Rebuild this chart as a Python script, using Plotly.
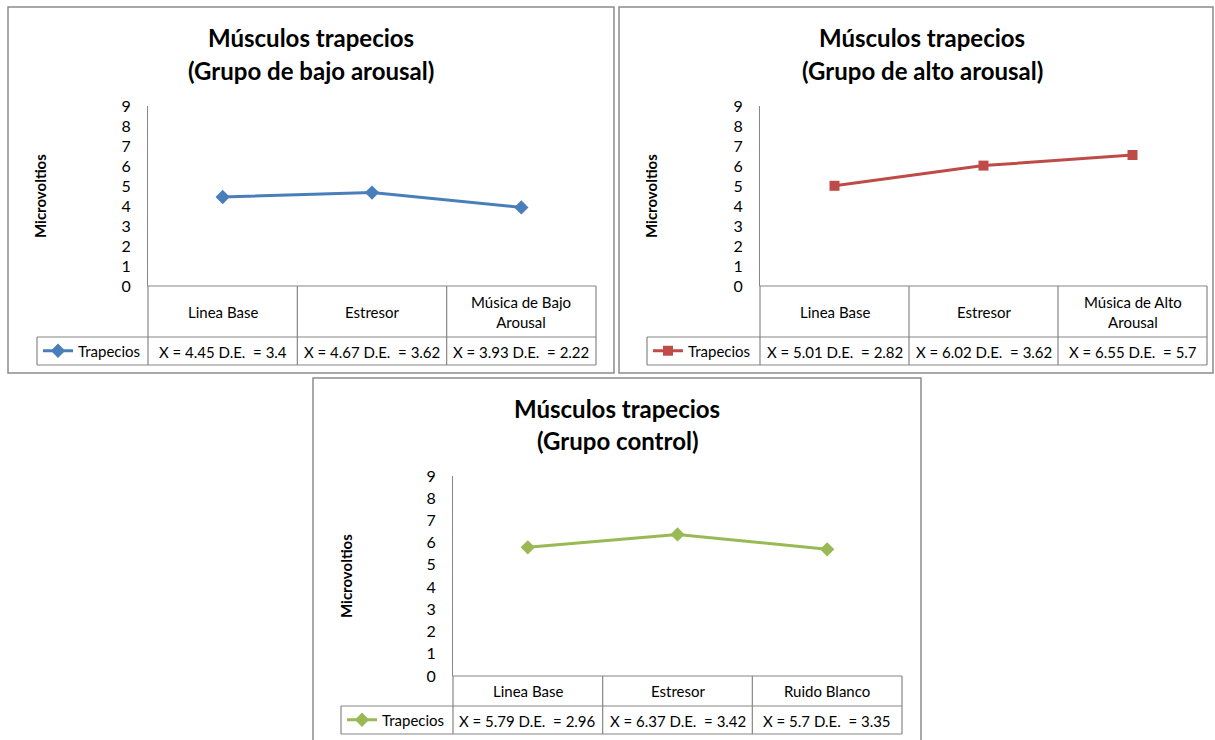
import plotly.graph_objects as go

# ---------------- data ----------------
titles = [
    ["Músculos trapecios", "(Grupo de bajo arousal)"],
    ["Músculos trapecios", "(Grupo de alto arousal)"],
    ["Músculos trapecios", "(Grupo control)"],
]
cats_bajo = ["Linea Base", "Estresor", "Música de Bajo<br>Arousal"]
cats_alto = ["Linea Base", "Estresor", "Música de Alto<br>Arousal"]
cats_control = ["Linea Base", "Estresor", "Ruido Blanco"]
mean_bajo = [4.45, 4.67, 3.93]
sd_bajo = [3.4, 3.62, 2.22]
mean_alto = [5.01, 6.02, 6.55]
sd_alto = [2.82, 3.62, 5.7]
mean_control = [5.79, 6.37, 5.7]
sd_control = [2.96, 3.42, 3.35]
series_name = "Trapecios"
y_title = "Microvoltios"
y_ticks = [0, 1, 2, 3, 4, 5, 6, 7, 8, 9]

# ---------------- layout helpers ----------------
W, H = 1215, 740
def px(x):
    return x / W
def py(y):
    return 1 - y / H

FONT = "Lato"
GRAY = "#868686"
colors = ["#4A7EBB", "#BE4B48", "#98B954"]
symbols = ["diamond", "square", "diamond"]

panels = [
    dict(box=(8, 7, 614, 373), ax0=148, ax1=596, y9=106, y0=286, hb=337, lb=365,
         kl=37, tx=311, t1=37, t2=70, ytx=40, cats=cats_bajo, m=mean_bajo, s=sd_bajo),
    dict(box=(619, 7, 1213, 373), ax0=760, ax1=1207, y9=106, y0=286, hb=337, lb=365,
         kl=647, tx=922, t1=37, t2=70, ytx=651, cats=cats_alto, m=mean_alto, s=sd_alto),
    dict(box=(313, 378, 921, 745), ax0=453, ax1=902, y9=476, y0=676, hb=706, lb=734,
         kl=341, tx=617, t1=408, t2=440, ytx=346, cats=cats_control, m=mean_control, s=sd_control),
]

fig = go.Figure()
shapes = []
annotations = []
layout_extra = {}

for i, p in enumerate(panels):
    n = i + 1
    xa = "x" if n == 1 else f"x{n}"
    ya = "y" if n == 1 else f"y{n}"
    leg = "legend" if n == 1 else f"legend{n}"
    fig.add_trace(go.Scatter(
        x=p["cats"], y=p["m"], mode="lines+markers", name=series_name,
        line=dict(color=colors[i], width=3),
        marker=dict(symbol=symbols[i], size=11 if symbols[i] == "diamond" else 10, color=colors[i]),
        xaxis=xa, yaxis=ya, legend=leg, showlegend=True,
    ))
    axkey = "xaxis" if n == 1 else f"xaxis{n}"
    aykey = "yaxis" if n == 1 else f"yaxis{n}"
    layout_extra[axkey] = dict(
        domain=[px(p["ax0"]), px(p["ax1"])], anchor=ya, type="category",
        range=[-0.5, 2.5], showticklabels=False, showgrid=False, zeroline=False,
        showline=False, ticks="", fixedrange=True,
    )
    layout_extra[aykey] = dict(
        domain=[py(p["y0"]), py(p["y9"])], anchor=xa, range=[0, 9],
        tickvals=y_ticks, showgrid=False, zeroline=False, showline=True,
        linecolor=GRAY, linewidth=1, ticks="", ticklabelstandoff=13,
        tickfont=dict(family=FONT, size=16, color="#000"),
    )
    layout_extra[leg] = dict(
        x=px(p["kl"] + 1), y=py((p["hb"] + p["lb"]) / 2), xanchor="left", yanchor="middle",
        bgcolor="rgba(0,0,0,0)", borderwidth=0, font=dict(family=FONT, size=15, color="#000"),
        itemwidth=30, tracegroupgap=0,
    )
    # panel border
    x0, y0b, x1, y1b = p["box"]
    shapes.append(dict(type="rect", xref="paper", yref="paper",
                       x0=px(x0), x1=px(x1), y0=py(y0b), y1=py(y1b),
                       line=dict(color="#8C8C8C", width=1.5), layer="below"))
    # table lines
    def hline(xa_, xb_, yy):
        shapes.append(dict(type="line", xref="paper", yref="paper", x0=px(xa_), x1=px(xb_),
                           y0=py(yy), y1=py(yy), line=dict(color=GRAY, width=1.2)))
    def vline(xx, ya_, yb_):
        shapes.append(dict(type="line", xref="paper", yref="paper", x0=px(xx), x1=px(xx),
                           y0=py(ya_), y1=py(yb_), line=dict(color=GRAY, width=1.2)))
    colw = (p["ax1"] - p["ax0"]) / 3
    hline(p["ax0"], p["ax1"], p["y0"])
    hline(p["kl"], p["ax1"], p["hb"])
    hline(p["kl"], p["ax1"], p["lb"])
    for k in range(4):
        vline(p["ax0"] + k * colw, p["y0"], p["lb"])
    vline(p["kl"], p["hb"], p["lb"])
    # category labels and values
    for k, c in enumerate(p["cats"]):
        annotations.append(dict(xref=xa, yref="paper", x=c, y=py((p["y0"] + p["hb"]) / 2),
                                text=c, showarrow=False, xanchor="center", yanchor="middle",
                                font=dict(family=FONT, size=15, color="#000")))
        annotations.append(dict(xref=xa, yref="paper", x=c, y=py((p["hb"] + p["lb"]) / 2 + 1),
                                text=f"X = {p['m'][k]} D.E.\u00a0 = {p['s'][k]}",
                                showarrow=False, xanchor="center", yanchor="middle",
                                font=dict(family=FONT, size=15, color="#000")))
    # titles
    for txt, ty in zip(titles[i], [p["t1"], p["t2"]]):
        annotations.append(dict(xref="paper", yref="paper", x=px(p["tx"]), y=py(ty),
                                text=f"<b>{txt}</b>", showarrow=False, xanchor="center",
                                yanchor="middle", font=dict(family=FONT, size=24, color="#000")))
    # y title
    annotations.append(dict(xref="paper", yref="paper", x=px(p["ytx"]),
                            y=py((p["y0"] + p["y9"]) / 2), text=f"<b>{y_title}</b>",
                            textangle=-90, showarrow=False, xanchor="center", yanchor="middle",
                            font=dict(family=FONT, size=15, color="#000")))

fig.update_layout(
    width=W, height=H, margin=dict(l=0, r=0, t=0, b=0, autoexpand=False),
    paper_bgcolor="white", plot_bgcolor="white",
    shapes=shapes, annotations=annotations, **layout_extra,
)
fig.write_html("out.html")
